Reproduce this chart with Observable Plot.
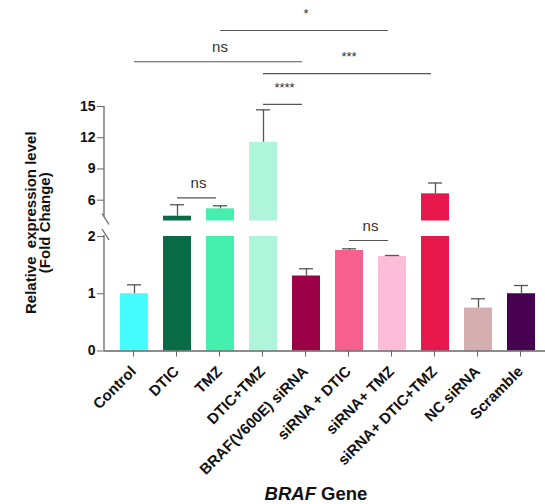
<!DOCTYPE html>
<html><head><meta charset="utf-8">
<script src="https://cdn.jsdelivr.net/npm/d3@7"></script>
<script src="https://cdn.jsdelivr.net/npm/@observablehq/plot@0.6"></script>
<style>
html,body{margin:0;padding:0;overflow:hidden;background:#fff;width:545px;height:504px}
#wrap{position:relative;width:545px;height:504px}
#title{position:absolute;top:485px;left:316px;transform:translateX(-50%);font:bold 18.5px "Liberation Sans",Arial,sans-serif;white-space:nowrap;line-height:18px;color:#111}
</style></head><body><div id="wrap"><div id="chart"></div><div id="title"><i>BRAF</i> Gene</div></div>
<script>
const categories = ["Control","DTIC","TMZ","DTIC+TMZ","BRAF(V600E) siRNA","siRNA + DTIC","siRNA+ TMZ","siRNA+ DTIC+TMZ","NC siRNA","Scramble"];
const means   = [1.00, 4.46, 5.17, 11.57, 1.31, 1.755, 1.65, 6.61, 0.75, 1.00];
const errTops = [1.156, 5.56, 5.46, 14.68, 1.436, 1.785, 1.668, 7.65, 0.912, 1.144];
const palette = ["#45FCFF","#086B45","#45EFAE","#AEF5DC","#9C0047","#F7608E","#FDBDD9","#E8174C","#D5AFAF","#470050"];
const yTicks = [0, 1, 2, 6, 9, 12, 15];
const brackets = [
  {a: "TMZ", b: "siRNA+ TMZ", label: "*", level: 22.3},
  {a: "Control", b: "BRAF(V600E) siRNA", label: "ns", level: 19.3},
  {a: "DTIC+TMZ", b: "siRNA+ DTIC+TMZ", label: "***", level: 18.15},
  {a: "DTIC+TMZ", b: "BRAF(V600E) siRNA", label: "****", level: 15.2},
  {a: "DTIC", b: "TMZ", label: "ns", level: 6.23},
  {a: "siRNA + DTIC", b: "siRNA+ TMZ", label: "ns", level: 1.93}
];
const LOW_MAX = 2, HIGH_MIN = 4, HIGH_MAX = 15;

const rows = categories.map((c, i) => ({cat: c, v: means[i], e: errTops[i], color: palette[i]}));
const low = rows.map(d => ({...d, top: Math.min(d.v, LOW_MAX)}));
const high = rows.filter(d => d.v > HIGH_MIN);

const decor = (index, scales, values, dims) => {
  const NS = "http://www.w3.org/2000/svg";
  const g = document.createElementNS(NS, "g");
  const y = scales.y, x = scales.x;
  const bw = x.bandwidth ? x.bandwidth() : 0;
  const x0 = dims.marginLeft;
  const line = (x1, y1, x2, y2, stroke, w) => {
    const l = document.createElementNS(NS, "line");
    l.setAttribute("x1", x1); l.setAttribute("y1", y1);
    l.setAttribute("x2", x2); l.setAttribute("y2", y2);
    l.setAttribute("stroke", stroke); l.setAttribute("stroke-width", w);
    g.appendChild(l);
  };
  // broken y axis line
  line(x0, y(0), x0, y(LOW_MAX) - 1, "#666", 1.3);
  line(x0, y(HIGH_MIN) - 4, x0, y(HIGH_MAX), "#666", 1.3);
  for (const v of [HIGH_MIN, LOW_MAX]) {
    const cy = y(v) - 1.5, cx = x0 + 1.5;
    line(cx - 3.5, cy - 5.5, cx + 3.5, cy + 5.5, "#666", 1.3);
  }
  // bracket labels
  for (const b of brackets) {
    const t = document.createElementNS(NS, "text");
    const cx = (x(b.a) + x(b.b)) / 2 + bw / 2;
    const star = b.label !== "ns";
    t.setAttribute("x", cx);
    t.setAttribute("y", y(b.level) - (star ? 12 : 9.5));
    t.setAttribute("text-anchor", "middle");
    t.setAttribute("font-size", star ? 13 : 15);
    t.setAttribute("font-weight", "normal");
    t.setAttribute("fill", "#333");
    t.textContent = b.label;
    g.appendChild(t);
  }
  return g;
};

const chart = Plot.plot({
  width: 545, height: 504,
  marginLeft: 104, marginRight: 0, marginTop: 100, marginBottom: 153.5,
  style: {fontFamily: "'Liberation Sans', Arial, sans-serif", fontSize: "14px", fontWeight: "bold", background: "#fff"},
  x: {domain: categories, range: [104, 550.5], paddingInner: 0.34, paddingOuter: 0.33, label: null},
  y: {type: "linear", domain: [0, LOW_MAX, HIGH_MIN, HIGH_MAX], range: [350.5, 236, 220.5, 106], label: null},
  color: {type: "identity"},
  marks: [
    Plot.barY(low, {x: "cat", y1: 0, y2: "top", fill: "color"}),
    Plot.barY(high, {x: "cat", y1: HIGH_MIN, y2: "v", fill: "color"}),
    Plot.ruleX(rows, {x: "cat", y1: "v", y2: "e", stroke: "#555", strokeWidth: 1.3}),
    Plot.tickY(rows, {x: "cat", y: "e", stroke: "#555", strokeWidth: 1.3, inset: 7}),
    Plot.ruleY([0], {stroke: "#666", strokeWidth: 1.3}),
    Plot.ruleY(brackets, {x1: "a", x2: "b", y: "level", stroke: "#555", strokeWidth: 1.2, insetLeft: 14, insetRight: 18}),
    Plot.axisY({ticks: yTicks, tickSize: 7, tickPadding: 2, stroke: "#666", fill: "#111", label: null}),
    Plot.axisX({tickRotate: -45, tickSize: 6, tickPadding: 12, dx: -1, fontSize: 15, stroke: "#666", fill: "#111", label: null}),
    Plot.text(["Relative\u00a0 expression level\n(Fold Change)"], {frameAnchor: "left", textAnchor: "middle", lineAnchor: "middle", rotate: -90, dx: -66, dy: -3, lineHeight: 0.9, fontSize: 15, fontWeight: "bold", fill: "#111"}),
    decor
  ]
});
document.getElementById("chart").appendChild(chart);
</script>
</body></html>
